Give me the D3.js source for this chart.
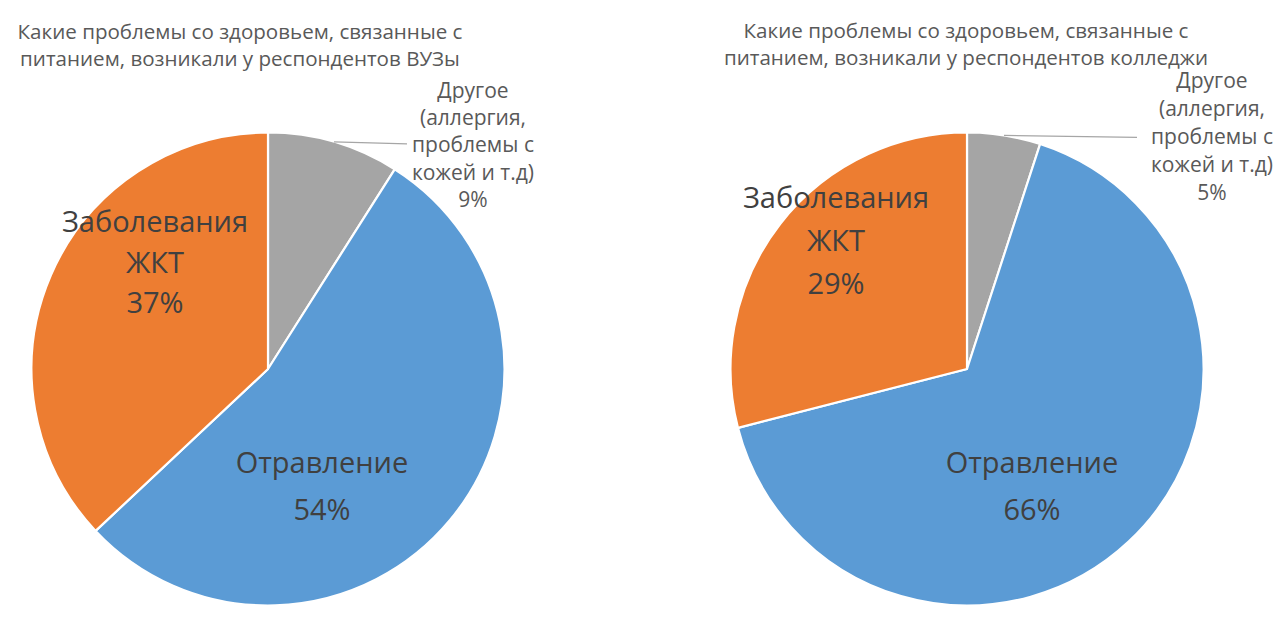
<!DOCTYPE html>
<html><head><meta charset="utf-8">
<script src="https://cdn.jsdelivr.net/npm/d3@7"></script>
<style>body{margin:0;background:#fff;} svg{display:block;}</style>
</head><body>
<svg id="c" width="1288" height="635"></svg>
<script>
// ---- data ----
const categories = ["Другое (аллергия, проблемы с кожей и т.д)", "Отравление", "Заболевания ЖКТ"];
const vuzValues = [9, 54, 37];
const collegeValues = [5, 66, 29];
const titles = [
  ["Какие проблемы со здоровьем, связанные с", "питанием, возникали у респондентов ВУЗы"],
  ["Какие проблемы со здоровьем, связанные с", "питанием, возникали у респондентов колледжи"]
];
const otherLabelLines = ["Другое", "(аллергия,", "проблемы с", "кожей и т.д)"];
const colors = ["#A5A5A5", "#5B9BD5", "#ED7D31"];

// ---- layout ----
const FONT = "'Open Sans', 'DejaVu Sans', sans-serif";
const svg = d3.select("#c");
const R = 236.5;

function fitSize(text, target) {
  const t = svg.append("text").attr("font-family", FONT).attr("font-size", 100).text(text);
  const w = t.node().getComputedTextLength();
  t.remove();
  return 100 * target / w;
}
const titleSize = fitSize(titles[0][0], 445);
const bigSize = Math.min(fitSize("Заболевания", 196), 29);
const smallSize = fitSize("проблемы с", 122);

const charts = [
  { values: vuzValues, title: titles[0], cx: 268, cy: 369, titleX: 240, titleY: [39, 66],
    big: [{ i: 2, x: -113, ys: [232, 273, 313] }, { i: 1, x: 54, ys: [473, 520] }],
    other: { x: 473, ys: [98, 125, 152, 180, 207], lineEnd: 407 } },
  { values: collegeValues, title: titles[1], cx: 967, cy: 369, titleX: 966, titleY: [38, 65],
    big: [{ i: 2, x: -131, ys: [208, 251, 294] }, { i: 1, x: 65, ys: [473, 520] }],
    other: { x: 1212, ys: [88, 116, 144, 172, 200], lineEnd: 1137 } }
];

const pie = d3.pie().sort(null).value(d => d);
const arc = d3.arc().innerRadius(0).outerRadius(R);

charts.forEach(ch => {
  const total = d3.sum(ch.values);
  const pct = v => Math.round(v / total * 100) + "%";
  const arcs = pie(ch.values);
  const g = svg.append("g").attr("transform", `translate(${ch.cx},${ch.cy})`);
  g.selectAll("path").data(arcs).join("path")
    .attr("d", arc)
    .attr("fill", (d, i) => colors[i])
    .attr("stroke", "#fff").attr("stroke-width", 2.2).attr("stroke-linejoin", "round");

  // title
  svg.append("g").selectAll("text").data(ch.title).join("text")
    .attr("x", ch.titleX).attr("y", (d, i) => ch.titleY[i])
    .attr("text-anchor", "middle").attr("font-family", FONT)
    .attr("font-size", titleSize).attr("fill", "#595959").text(d => d);

  // big labels
  ch.big.forEach(b => {
    const name = categories[b.i];
    const words = b.i === 2 ? ["Заболевания", "ЖКТ"] : [name];
    const lines = words.concat([pct(ch.values[b.i])]);
    svg.append("g").selectAll("text").data(lines).join("text")
      .attr("x", ch.cx + b.x).attr("y", (d, i) => b.ys[i])
      .attr("text-anchor", "middle").attr("font-family", FONT)
      .attr("font-size", bigSize).attr("fill", "#404040").text(d => d);
  });

  // leader line from mid of "other" slice
  const a0 = arcs[0];
  const mid = (a0.startAngle + a0.endAngle) / 2;
  const sx = ch.cx + Math.sin(mid) * R, sy = ch.cy - Math.cos(mid) * R;
  svg.append("line").attr("x1", sx).attr("y1", sy)
    .attr("x2", ch.other.lineEnd).attr("y2", sy + 2)
    .attr("stroke", "#A6A6A6").attr("stroke-width", 1.3);

  const olines = otherLabelLines.concat([pct(ch.values[0])]);
  svg.append("g").selectAll("text").data(olines).join("text")
    .attr("x", ch.other.x).attr("y", (d, i) => ch.other.ys[i])
    .attr("text-anchor", "middle").attr("font-family", FONT)
    .attr("font-size", smallSize).attr("fill", "#595959").text(d => d);
});
</script>
</body></html>
